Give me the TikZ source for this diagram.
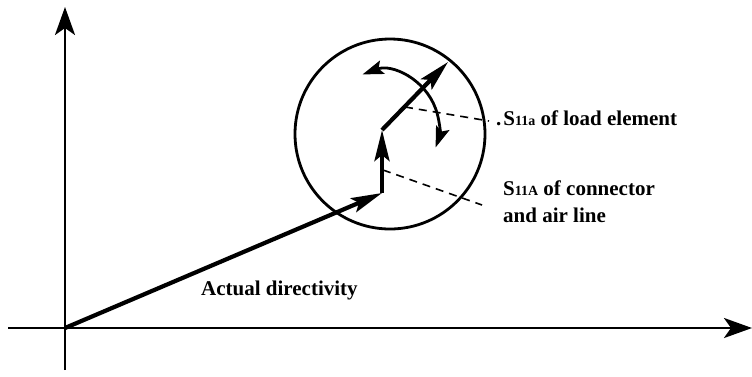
\documentclass[tikz,border=0pt]{standalone}
\usepackage{fontspec}
\setmainfont{Liberation Serif}
\usetikzlibrary{arrows.meta}
\tikzset{
  axis/.style={line width=2.8pt, -{Stealth[length=28pt,width=20pt,inset=7pt]}},
  vec/.style={line width=4.2pt, -{Stealth[length=31pt,width=15pt,inset=6pt]}},
  rot/.style={line width=2.8pt, {Stealth[length=21pt,width=14pt,inset=4pt]}-{Stealth[length=21pt,width=14pt,inset=4pt]}},
  ring/.style={line width=2.8pt},
  lead/.style={line width=1.6pt, dash pattern=on 8pt off 6pt},
  lbl/.style={font=\fontsize{21pt}{27pt}\selectfont\bfseries, inner sep=0pt, anchor=base west, align=left}
}
\newcommand{\sub}[1]{{\fontsize{14pt}{14pt}\selectfont #1}}
\begin{document}
\begin{tikzpicture}[x=1pt,y=-1pt]
\useasboundingbox (0,0) rectangle (752,376);
% axes
\coordinate (xs) at (8,328);
\coordinate (xe) at (752,328);
\coordinate (ys) at (65,370);
\coordinate (ye) at (65,7);
\draw[axis] (xs) -- (xe);
\draw[axis] (ys) -- (ye);
% points
\coordinate (O) at (65,328);
\coordinate (P) at (382,193);
\coordinate (Q) at (382,130);
\coordinate (R) at (448,62);
\coordinate (C) at (390,134);
\coordinate (M) at (382,128);
\node[ring, draw, circle, minimum size=190pt, inner sep=0pt] (circ) at (C) {};
% vectors
\draw[vec] (O) -- (P);
\draw[vec] (P) -- (Q);
\draw[vec] (Q) -- (R);
% rotation arc
\draw[rot] ([shift={(-110:57)}]M) arc[start angle=-110, end angle=20, radius=57];
% labels
\node[lbl] (load) at (496,125) {.\kern2pt S\sub{11a} of load element};
\node[lbl] (conn) at (503,222) {S\sub{11A} of connector\\and air line};
\node[lbl] (act) at (201,295) {Actual directivity};
% leader lines
\coordinate (la) at (405,107);
\coordinate (lb) at (383,170);
\coordinate (lae) at (489,121);
\coordinate (lbe) at (482,205);
\draw[lead] (la) -- (lae);
\draw[lead] (lb) -- (lbe);
\end{tikzpicture}
\end{document}
